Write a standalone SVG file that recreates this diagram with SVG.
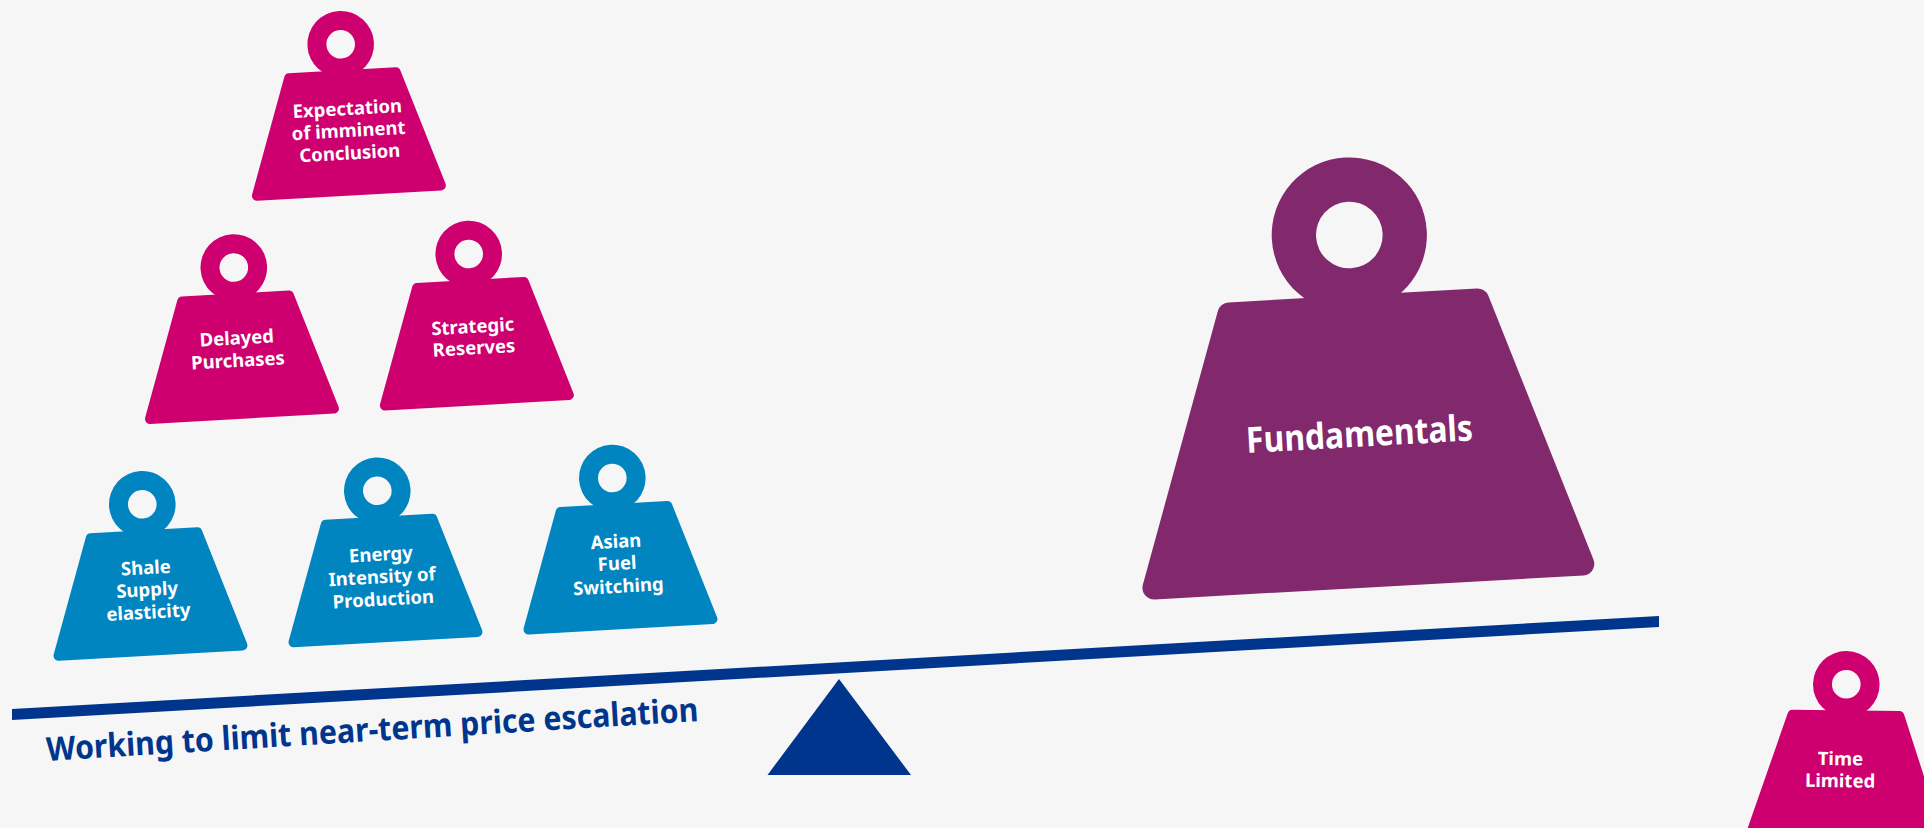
<svg xmlns="http://www.w3.org/2000/svg" width="1924" height="828" viewBox="0 0 1924 828">
<style>
.t{font-family:"Noto Sans","Liberation Sans",sans-serif;font-weight:700;fill:#fff;text-anchor:middle;font-size:18.5px}
.big{font-size:36px}
.m{color:#CE0070}.b{color:#0085C0}.p{color:#82286C}
use{fill:currentColor;stroke:currentColor}
.lab{font-family:"Noto Sans","Liberation Sans",sans-serif;font-weight:700;fill:#00358E;font-size:33px}
</style>
<defs>
<g id="weight">
<path stroke="none" fill-rule="evenodd" d="M-33.300 0a33.300 33.300 0 1 0 66.600 0a33.300 33.300 0 1 0-66.600 0ZM-14.300 0a14.300 14.300 0 1 1 28.600 0a14.300 14.300 0 1 1-28.600 0Z"/>
<path stroke-width="10" stroke-linejoin="round" d="M-53.400 31L53.400 31L92.100 146.500L-92.100 146.500Z"/>
</g>
</defs>
<rect width="1924" height="828" fill="#F6F6F6"/>
<g id="connectors">
<polygon id="beam" points="12,709 1659,616 1659,627 12,720" fill="#00358E"/>
<polygon id="fulcrum" points="839,679 911,775 767.500,775" fill="#00358E"/>
</g>
<g id="n-expectation" class="m" transform="translate(340.700 44.300) rotate(-3.200)"><use href="#weight"/><text class="t"><tspan x="3" y="71">Expectation</tspan><tspan x="3" y="93">of imminent</tspan><tspan x="3" y="115.500">Conclusion</tspan></text></g>
<g id="n-delayed" class="m" transform="translate(233.800 267.500) rotate(-3.200)"><use href="#weight"/><text class="t"><tspan x="-1" y="77">Delayed</tspan><tspan x="-1" y="99.500">Purchases</tspan></text></g>
<g id="n-strategic" class="m" transform="translate(468.700 254) rotate(-3.200)"><use href="#weight"/><text class="t"><tspan x="0" y="79">Strategic</tspan><tspan x="0" y="100.500">Reserves</tspan></text></g>
<g id="n-shale" class="b" transform="translate(142.300 504.300) rotate(-3.200)"><use href="#weight"/><text class="t"><tspan x="0" y="70">Shale</tspan><tspan x="0" y="92">Supply</tspan><tspan x="0" y="114.500">elasticity</tspan></text></g>
<g id="n-energy" class="b" transform="translate(377.300 490.800) rotate(-3.200)"><use href="#weight"/><text class="t"><tspan x="0" y="70">Energy</tspan><tspan x="0" y="92.500">Intensity of</tspan><tspan x="0" y="115">Production</tspan></text></g>
<g id="n-asian" class="b" transform="translate(612.300 478) rotate(-3.200)"><use href="#weight"/><text class="t"><tspan x="0" y="70">Asian</tspan><tspan x="0" y="92">Fuel</tspan><tspan x="0" y="115">Switching</tspan></text></g>
<g id="n-fundamentals" class="p" transform="translate(1349.300 235) rotate(-3.200)"><g transform="scale(2.33)"><use href="#weight"/></g><text class="t big" x="-1" y="212" textLength="227" lengthAdjust="spacingAndGlyphs">Fundamentals</text></g>
<g id="n-time" class="m" transform="translate(1846.300 684.300) rotate(0.700)"><use href="#weight"/><text class="t"><tspan x="-5" y="81">Time</tspan><tspan x="-5" y="103">Limited</tspan></text></g>
<text id="label" class="lab" transform="translate(47 761) rotate(-3.500)" textLength="653" lengthAdjust="spacingAndGlyphs">Working to limit near-term price escalation</text>
</svg>
